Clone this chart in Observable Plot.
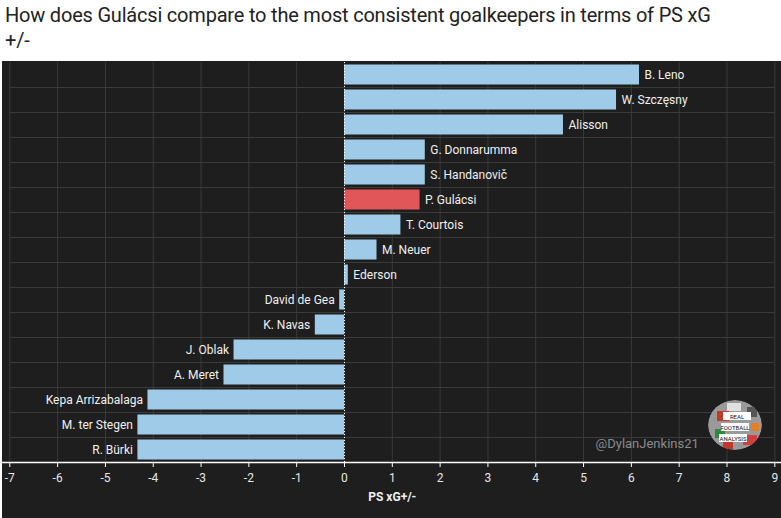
<!DOCTYPE html>
<html>
<head>
<meta charset="utf-8">
<script src="https://cdn.jsdelivr.net/npm/d3@7"></script>
<script src="https://cdn.jsdelivr.net/npm/@observablehq/plot@0.6"></script>
<style>
  html, body { margin: 0; padding: 0; background: #ffffff; }
  body { width: 781px; height: 518px; overflow: hidden; position: relative; }
  #title { position: absolute; left: 5px; top: 3px; font-family: Roboto, sans-serif; font-size: 20px; line-height: 25px; color: #222; letter-spacing: -0.2px; }
  #chart { position: absolute; left: 2px; top: 61px; }
</style>
</head>
<body>
<div id="title">How does Gulácsi compare to the most consistent goalkeepers in terms of PS xG<br>+/-</div>
<div id="chart"></div>
<script>
const players = ["B. Leno", "W. Szczęsny", "Alisson", "G. Donnarumma", "S. Handanovič", "P. Gulácsi", "T. Courtois", "M. Neuer", "Ederson", "David de Gea", "K. Navas", "J. Oblak", "A. Meret", "Kepa Arrizabalaga", "M. ter Stegen", "R. Bürki"];
const psxg = [6.17, 5.69, 4.58, 1.69, 1.69, 1.58, 1.18, 0.68, 0.08, -0.10, -0.61, -2.31, -2.52, -4.11, -4.32, -4.32];
const highlight = "P. Gulácsi";
const xTicks = [-7, -6, -5, -4, -3, -2, -1, 0, 1, 2, 3, 4, 5, 6, 7, 8, 9];
const axisTitle = "PS xG+/-";
const credit = "@DylanJenkins21";

const data = players.map((name, i) => ({name, value: psxg[i]}));
const bg = "#1e1e1e";
const font = "Roboto, sans-serif";

const chart = Plot.plot({
  width: 779,
  height: 457,
  marginLeft: 7.3,
  marginRight: 6.7,
  marginTop: 1,
  marginBottom: 56,
  style: {background: bg, color: "#e6e6e6", fontFamily: font, fontSize: "12px"},
  x: {domain: [-7, 9], ticks: xTicks, label: null},
  y: {domain: players, padding: 0, axis: null},
  marks: [
    Plot.ruleX(xTicks, {stroke: "#3a3a3a", strokeWidth: 1}),
    Plot.ruleY(players, {y: d => d, dy: 12.5, stroke: "#3a3a3a", strokeWidth: 1}),
    Plot.barX(data, {x: "value", y: "name", insetTop: 2.5, insetBottom: 2.5,
      fill: d => d.name === highlight ? "#e15759" : "#a0cbe8"}),
    Plot.ruleX([0], {stroke: "#ffffff", strokeWidth: 1, strokeDasharray: "1,2"}),
    Plot.text(data.filter(d => d.value >= 0), {x: "value", y: "name", text: "name", textAnchor: "start", dx: 5, fill: "#f0f0f0", fontSize: 12}),
    Plot.text(data.filter(d => d.value < 0), {x: "value", y: "name", text: "name", textAnchor: "end", dx: -5, fill: "#f0f0f0", fontSize: 12}),
    Plot.axisX({ticks: xTicks, tickFormat: d => String(d), tickSize: 5, tickPadding: 6, stroke: "#ffffff", fill: "#e6e6e6", fontSize: 12, label: null}),
    Plot.text([axisTitle], {frameAnchor: "bottom", dy: 38, fill: "#f0f0f0", fontSize: 12, fontWeight: "bold"}),
    Plot.text([credit], {frameAnchor: "bottom-right", dx: -76, dy: -15, fill: "#8a8a8a", fontSize: 13})
  ]
});

// axis baseline across the full plot width
const svg = d3.select(chart);
svg.append("line")
  .attr("x1", 0).attr("x2", 779)
  .attr("y1", 401.5).attr("y2", 401.5)
  .attr("stroke", "#ffffff").attr("stroke-width", 1.5);

// logo badge
const g = svg.append("g").attr("transform", "translate(733,364)");
const clip = svg.append("defs").append("clipPath").attr("id", "logoclip");
clip.append("ellipse").attr("rx", 27).attr("ry", 25);
const lg = g.append("g").attr("clip-path", "url(#logoclip)");
lg.append("ellipse").attr("rx", 27).attr("ry", 25).attr("fill", "#9a9a9a");
const blobs = [["#c0392b",-18,-14,12,10],["#2e8b3e",-20,4,10,9],["#d04040",8,10,14,10],["#e0e0e0",-8,-22,14,8],["#555",12,-18,10,10],["#c0392b",-12,14,10,10],["#e67e22",16,-2,8,8]];
blobs.forEach(b => lg.append("rect").attr("x", b[1]).attr("y", b[2]).attr("width", b[3]).attr("height", b[4]).attr("fill", b[0]));
[[-12,-13,"REAL"],[-14,-2,"FOOTBALL"],[-16,9,"ANALYSIS"]].forEach(t => {
  lg.append("rect").attr("x", t[0]).attr("y", t[1]).attr("width", 28).attr("height", 8).attr("fill", "#fff");
  lg.append("text").attr("x", t[0] + 14).attr("y", t[1] + 6.5).attr("text-anchor", "middle")
    .attr("font-size", 6).attr("font-family", font).attr("fill", "#111").text(t[2]);
});

document.getElementById("chart").appendChild(chart);
</script>
</body>
</html>
